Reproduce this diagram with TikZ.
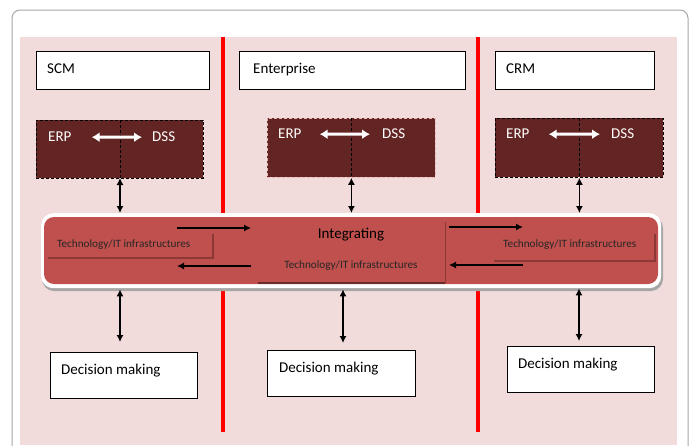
\documentclass[tikz,border=0pt]{standalone}
\usepackage{fontspec}
\setmainfont{Carlito}
\usetikzlibrary{arrows.meta,calc}
\definecolor{pinkbg}{HTML}{F2DCDB}
\definecolor{darkbox}{HTML}{632523}
\definecolor{barred}{HTML}{C0504D}
\definecolor{subline}{HTML}{8C3836}
\definecolor{lightdash}{HTML}{E6B9B8}
\definecolor{framegray}{HTML}{A6A6A6}
\tikzset{
 topbox/.style={draw=black, fill=white, line width=0.9pt, inner sep=0pt, anchor=north west},
 erpbox/.style={fill=darkbox, inner sep=0pt, anchor=north west, draw=black, dash pattern=on 3pt off 2pt, line width=0.8pt},
 divline/.style={black, dash pattern=on 3pt off 2pt, line width=0.8pt},
 txt/.style={inner sep=0pt, font=\fontsize{15}{18}\selectfont, anchor=base west},
 wtxt/.style={txt, text=white},
 smalltxt/.style={inner sep=0pt, font=\fontsize{11.2}{13}\selectfont, anchor=base west, text=black!85},
 dblarrow/.style={{Latex[length=7pt,width=7pt]}-{Latex[length=7pt,width=7pt]}, line width=1.2pt, black},
 onearrow/.style={-{Latex[length=7pt,width=7pt]}, line width=1.2pt, black},
 whitearrow/.style={{Latex[length=8pt,width=10pt]}-{Latex[length=8pt,width=10pt]}, white, line width=3pt},
 redline/.style={red, line width=3.5pt},
 subedge/.style={subline, line width=1.4pt},
}
\begin{document}
\begin{tikzpicture}[x=1pt,y=-1pt]
\useasboundingbox (0,0) rectangle (694,445);
\fill[white] (0,0) rectangle (694,445);
\begin{scope}
\clip (0,0) rectangle (694,445);
\draw[framegray, line width=1pt, rounded corners=8pt] (12,10) rectangle (688,480);
\end{scope}
\fill[pinkbg] (20,37) rectangle (677,445);
% red separators
\draw[redline] (223,37) -- (223,432);
\draw[redline] (478,37) -- (478,432);

% top boxes
\node[topbox, minimum width=173pt, minimum height=38pt] (scm) at (36,51) {};
\node[txt] (scmt) at (47,73) {SCM};
\node[topbox, minimum width=226pt, minimum height=38pt] (ent) at (239,51) {};
\node[txt] (entt) at (253,73) {Enterprise};
\node[topbox, minimum width=159pt, minimum height=38pt] (crm) at (495,51) {};
\node[txt] (crmt) at (506,73) {CRM};

% ERP/DSS boxes
\node[erpbox, minimum width=167pt, minimum height=58pt] (erp1) at (36,120) {};
\draw[divline] (120,120) -- (120,178);
\node[wtxt] (erpt1) at (48,141) {ERP};
\node[wtxt] (dsst1) at (152,141) {DSS};
\draw[whitearrow] ($(erpt1.east)+(20,1)$) -- ($(dsst1.west)+(-10,1)$);

\node[erpbox, draw=lightdash, minimum width=168pt, minimum height=59pt] (erp2) at (267,118) {};
\draw[divline] (351,118) -- (351,177);
\node[wtxt] (erpt2) at (278,138) {ERP};
\node[wtxt] (dsst2) at (382,138) {DSS};
\draw[whitearrow] ($(erpt2.east)+(18,1)$) -- ($(dsst2.west)+(-12,1)$);

\node[erpbox, minimum width=168pt, minimum height=59pt] (erp3) at (495,118) {};
\draw[divline] (579,118) -- (579,177);
\node[wtxt] (erpt3) at (506,138) {ERP};
\node[wtxt] (dsst3) at (611,138) {DSS};
\draw[whitearrow] ($(erpt3.east)+(19,1)$) -- ($(dsst3.west)+(-11,1)$);

% integrating bar
\fill[black!35, rounded corners=12pt] (42,216) rectangle (663,291);
\node[fill=white, rounded corners=12pt, inner sep=0pt, anchor=north west, minimum width=620pt, minimum height=75pt] (bar) at (41,213) {};
\fill[barred, rounded corners=10pt] (44,217) rectangle (658,284);

% sub-box edges
\draw[subedge] (48,258) -- (213,258) -- (213,234);
\draw[subedge] (494,261) -- (655,261) -- (655,234);
\draw[line width=1.2pt, black!45!barred] (258,283) -- (445,283);
\draw[line width=0.9pt, subline] (445,283) -- (445,222);

\node[smalltxt] (tech1) at (57,247) {Technology/IT infrastructures};
\node[txt, anchor=base] (integ) at (351,238) {Integrating};
\node[smalltxt, anchor=base] (tech2) at (351,268) {Technology/IT infrastructures};
\node[smalltxt] (tech3) at (503,247) {Technology/IT infrastructures};

% horizontal arrows inside the bar
\coordinate (a1s) at (177,228); \coordinate (a1e) at (251,228);
\coordinate (a2s) at (251,266); \coordinate (a2e) at (177,266);
\coordinate (a3s) at (449,227); \coordinate (a3e) at (523,227);
\coordinate (a4s) at (523,265); \coordinate (a4e) at (449,265);
\draw[onearrow] (a1s) -- (a1e);
\draw[onearrow] (a2s) -- (a2e);
\draw[onearrow] (a3s) -- (a3e);
\draw[onearrow] (a4s) -- (a4e);

% decision boxes
\node[topbox, minimum width=147pt, minimum height=46pt] (dec1) at (50,352) {};
\node[txt] (dect1) at (61,374) {Decision making};
\node[topbox, minimum width=148pt, minimum height=46pt] (dec2) at (267,350) {};
\node[txt] (dect2) at (279,372) {Decision making};
\node[topbox, minimum width=147pt, minimum height=46pt] (dec3) at (507,346) {};
\node[txt] (dect3) at (518,368) {Decision making};

% vertical connectors
\coordinate (c1) at (120,178);
\draw[dblarrow] (c1) -- (c1 |- bar.north);
\draw[dblarrow] (erp2.south) -- (erp2.south |- bar.north);
\draw[dblarrow] (erp3.south) -- (erp3.south |- bar.north);
\coordinate (d2) at (343,300);
\coordinate (d3) at (579,300);
\draw[dblarrow] ($(c1 |- bar.south)+(0,1)$) -- ($(c1 |- dec1.north)+(0,-10)$);
\draw[dblarrow] ($(d2 |- bar.south)+(0,1)$) -- ($(d2 |- dec2.north)+(0,-7)$);
\draw[dblarrow] (d3 |- bar.south) -- ($(d3 |- dec3.north)+(0,-5)$);
\end{tikzpicture}
\end{document}
